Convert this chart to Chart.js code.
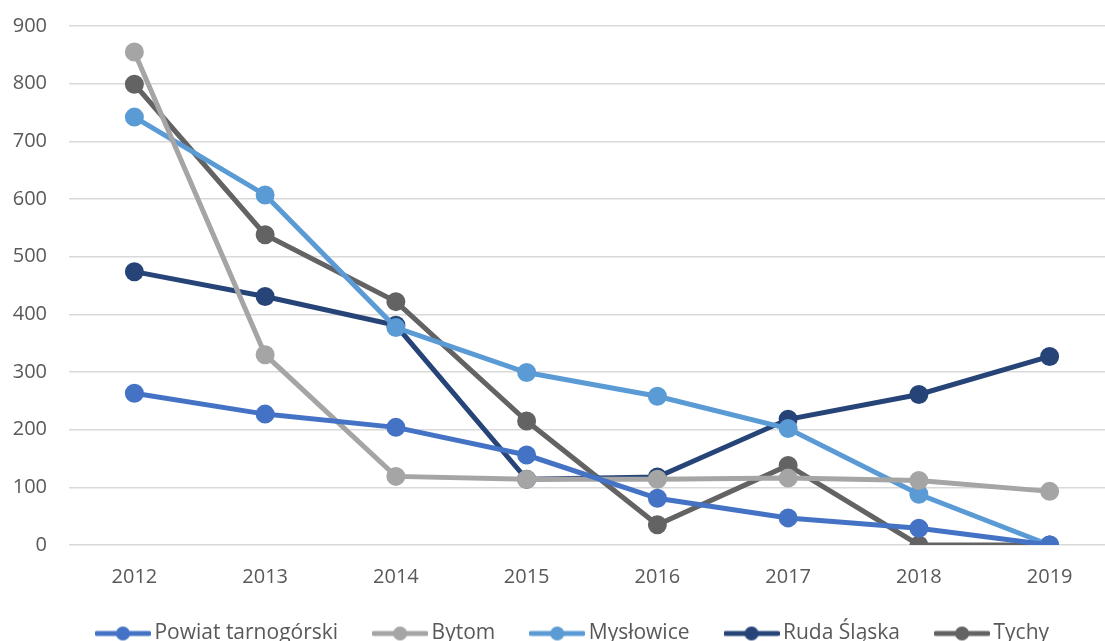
<!DOCTYPE html>
<html>
<head>
<meta charset="utf-8">
<script src="https://cdn.jsdelivr.net/npm/chart.js@4"></script>
<style>
  html, body { margin: 0; padding: 0; background: #fff; overflow: hidden; }
  #wrap { width: 1105px; height: 641px; overflow: hidden; }
  #box { position: relative; top: -8px; width: 1127px; height: 655px; }
</style>
</head>
<body>
<div id="wrap"><div id="box"><canvas id="myChart"></canvas></div></div>
<script>
const labels = ['2012', '2013', '2014', '2015', '2016', '2017', '2018', '2019']

const tarnogorski = [263, 227, 204, 156, 81, 47, 29, 0]
const bytom = [855, 330, 119, 114, 114, 116, 112, 93]
const myslowice = [742, 607, 377, 299, 258, 202, 88, 0]
const rudaSlaska = [474, 431, 381, 114, 118, 218, 261, 327]
const tychy = [799, 538, 422, 215, 35, 138, 0, 0]

const names = ['Powiat tarnogórski', 'Bytom', 'Mysłowice', 'Ruda Śląska', 'Tychy']
const colors = ['#4472C4', '#A5A5A5', '#5B9BD5', '#264478', '#636363']
const series = [tarnogorski, bytom, myslowice, rudaSlaska, tychy]

// legend marker: line with a dot in the middle
function marker(color) {
  const c = document.createElement('canvas')
  c.width = 56
  c.height = 16
  const g = c.getContext('2d')
  g.strokeStyle = color
  g.lineWidth = 5
  g.lineCap = 'round'
  g.beginPath()
  g.moveTo(2, 8)
  g.lineTo(54, 8)
  g.stroke()
  g.fillStyle = color
  g.beginPath()
  g.arc(28, 8, 7, 0, Math.PI * 2)
  g.fill()
  return c
}

// nudge the legend box a bit (it is centred on the wider canvas)
const legendShift = {
  id: 'legendShift',
  afterLayout(chart) {
    const l = chart.legend
    l.left += 12
    l.right += 12
    l.top -= 4
    l.bottom += 30
  }
}

const data = {
  labels,
  datasets: series.map((s, i) => ({
    label: names[i],
    data: s,
    borderColor: colors[i],
    backgroundColor: colors[i],
    borderWidth: 5,
    pointRadius: 7,
    pointHoverRadius: 7,
    pointStyle: 'circle',
    legendMarker: marker(colors[i]),
    tension: 0,
  }))
}

const ctx = document.getElementById('myChart')

const config = {
  type: 'line',
  data: data,
  plugins: [legendShift],
  options: {
    responsive: true,
    maintainAspectRatio: false,
    animation: false,
    layout: { padding: { top: 17, left: 0, right: 0, bottom: -11 } },
    plugins: {
      legend: {
        position: 'bottom',
        labels: {
          usePointStyle: true,
          pointStyleWidth: 42,
          padding: 41,
          color: '#595959',
          font: { family: 'Open Sans', size: 21 },
          generateLabels: (chart) => chart.data.datasets.map((d, i) => ({
            text: d.label,
            fillStyle: d.borderColor,
            strokeStyle: d.borderColor,
            lineWidth: 0,
            pointStyle: d.legendMarker,
            datasetIndex: i,
            fontColor: '#595959',
          }))
        }
      },
      tooltip: { enabled: false }
    },
    scales: {
      x: {
        offset: true,
        grid: { display: false },
        border: { display: false },
        ticks: { color: '#595959', font: { family: 'Open Sans', size: 20 }, padding: 12 },
        afterFit: (s) => { s.height = 41 }
      },
      y: {
        min: 0,
        max: 900,
        ticks: { stepSize: 100, color: '#595959', font: { family: 'Open Sans', size: 20 }, padding: 22 },
        grid: { color: '#D9D9D9', lineWidth: 1.5, drawTicks: false },
        border: { display: false },
        afterFit: (s) => { s.width = 69 }
      }
    }
  }
}

const myChart = new Chart(ctx, config)
</script>
</body>
</html>
